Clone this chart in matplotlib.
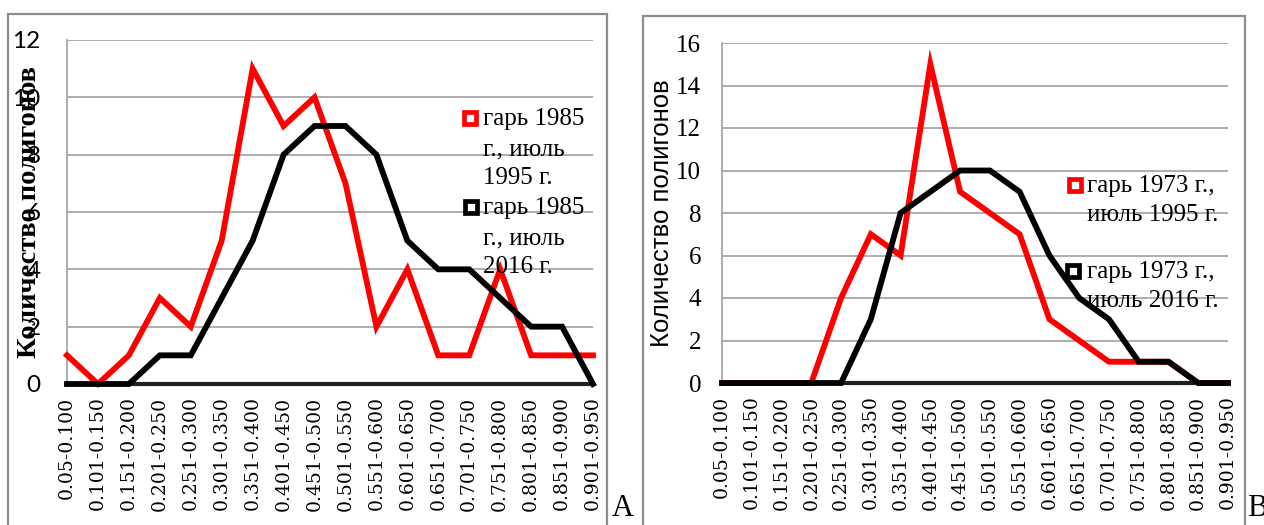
import matplotlib
matplotlib.use("Agg")
import matplotlib.pyplot as plt
from matplotlib.lines import Line2D
from matplotlib.patches import Rectangle
import numpy as np

W, H = 1264, 525

categories = ["0.05-0.100", "0.101-0.150", "0.151-0.200", "0.201-0.250", "0.251-0.300",
              "0.301-0.350", "0.351-0.400", "0.401-0.450", "0.451-0.500", "0.501-0.550",
              "0.551-0.600", "0.601-0.650", "0.651-0.700", "0.701-0.750", "0.751-0.800",
              "0.801-0.850", "0.851-0.900", "0.901-0.950"]

a_red = [1, 0, 1, 3, 2, 5, 11, 9, 10, 7, 2, 4, 1, 1, 4, 1, 1, 1]
a_black = [0, 0, 0, 1, 1, 3, 5, 8, 9, 9, 8, 5, 4, 4, 3, 2, 2, 0]
b_red = [0, 0, 0, 0, 4, 7, 6, 15, 9, 8, 7, 3, 2, 1, 1, 1, 0, 0]
b_black = [0, 0, 0, 0, 0, 3, 8, 9, 10, 10, 9, 6, 4, 3, 1, 1, 0, 0]

a_legend = [["гарь 1985", "г., июль", "1995 г."], ["гарь 1985", "г., июль", "2016 г."]]
b_legend = [["гарь 1973 г.,", "июль 1995 г."], ["гарь 1973 г.,", "июль 2016 г."]]
ylabel = "Количество полигонов"

SERIF = ["Liberation Serif", "DejaVu Serif"]
WSERIF = ["DejaVu Serif"]
SANS = ["Liberation Sans", "DejaVu Sans"]

fig = plt.figure(figsize=(W / 100, H / 100), dpi=100)


def fx(px):
    return px / W


def fy(py):
    return 1 - py / H


# panel frames
for (x0, y0, x1) in [(8, 14, 607), (643, 16, 1245)]:
    fig.add_artist(Rectangle((fx(x0), fy(H + 20)), fx(x1 - x0), (H + 20 - y0) / H,
                             transform=fig.transFigure, fill=False,
                             edgecolor="#8c8c8c", linewidth=1.6))


def make_axes(l, t, r, b, ymax, red, black, tickfont, ticksize, tickpad):
    ax = fig.add_axes([fx(l), fy(b), fx(r - l), (b - t) / H])
    x = np.arange(len(categories))
    ax.plot(x, red, color="#ff0000", lw=4.2, solid_joinstyle="miter", zorder=3, clip_on=False)
    ax.plot(x, black, color="#000000", lw=4.2, solid_joinstyle="miter", zorder=4, clip_on=False)
    ax.set_xlim(0, len(categories) - 1)
    ax.set_ylim(0, ymax)
    ax.set_yticks(np.arange(0, ymax + 1, 2))
    ax.yaxis.grid(True, color="#a0a0a0", lw=1.2)
    ax.set_axisbelow(True)
    for s in ["top", "right"]:
        ax.spines[s].set_visible(False)
    ax.spines["left"].set_color("#a0a0a0")
    ax.spines["left"].set_linewidth(1.2)
    ax.spines["bottom"].set_color("#202020")
    ax.spines["bottom"].set_linewidth(3.0)
    ax.set_xticks(x)
    ax.set_xticklabels(categories, rotation=90, va="top", ha="center",
                       family=WSERIF, fontsize=13.5)
    ax.tick_params(axis="x", length=0, pad=9)
    ax.tick_params(axis="y", length=0, pad=tickpad)
    for lab in ax.get_yticklabels():
        lab.set_family(tickfont)
        lab.set_fontsize(ticksize)
    return ax


axA = make_axes(67, 40, 593, 384, 12, a_red, a_black, ["Lato", "DejaVu Sans"], 17.5, 19)
axA.set_ylabel(ylabel, family=SERIF, fontweight="bold", fontsize=20.5)
axA.yaxis.set_label_coords((42 - 67) / 526, 0.5)

axB = make_axes(722, 43, 1228, 383, 16, b_red, b_black, SERIF, 18, 15)
axB.set_ylabel(ylabel, family=SANS, fontsize=18.5)
axB.yaxis.set_label_coords((674 - 722) / 506, 0.5)


def legend(entries, colors, marker_pos, text_x, line_ys):
    for lines, col, (mx, my), ys in zip(entries, colors, marker_pos, line_ys):
        fig.add_artist(Line2D([fx(mx)], [fy(my)], transform=fig.transFigure,
                              marker="s", markersize=8.5, markeredgewidth=3.4,
                              markeredgecolor=col, markerfacecolor="white",
                              linestyle="none", zorder=10))
        for ln, yy in zip(lines, ys):
            fig.text(fx(text_x), fy(yy), ln, family=SERIF, fontsize=18,
                     ha="left", va="center", zorder=10)


legend(a_legend, ["#ff0000", "#000000"], [(470, 118), (471, 207)], 483,
       [[119, 149, 178], [208, 238, 267]])
legend(b_legend, ["#ff0000", "#000000"], [(1075, 185), (1073, 271)], 1087,
       [[186, 215], [272, 301]])

fig.text(fx(623), fy(508), "A", family=SERIF, fontsize=22, ha="center", va="center")
fig.text(fx(1247), fy(508), "B", family=SERIF, fontsize=22, ha="left", va="center")

fig.savefig("out.png", dpi=100)
